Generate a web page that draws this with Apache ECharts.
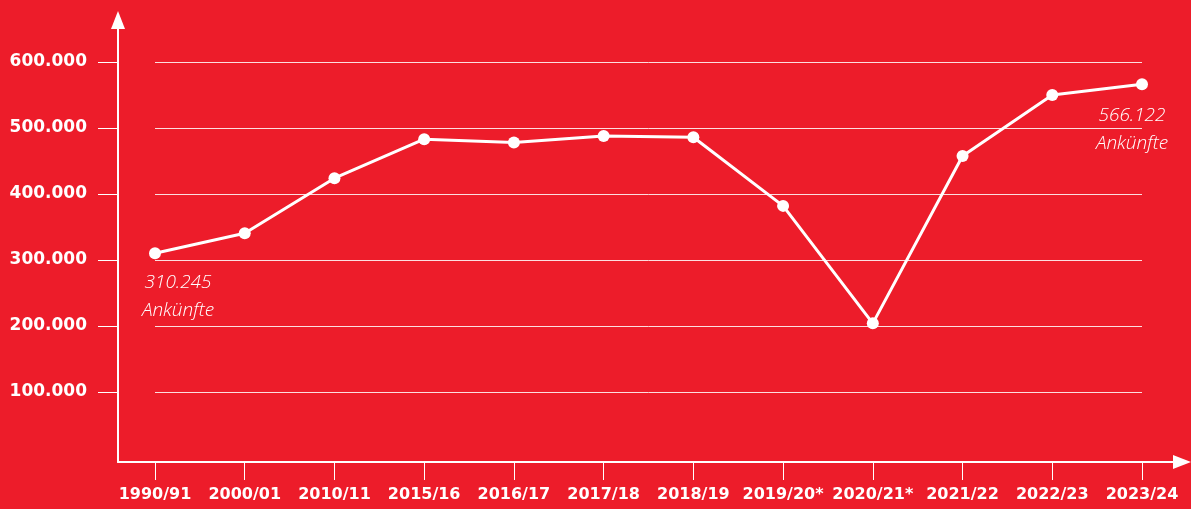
<!DOCTYPE html>
<html>
<head>
<meta charset="utf-8">
<script src="https://cdn.jsdelivr.net/npm/echarts@6/dist/echarts.min.js"></script>
<style>
  html, body { margin: 0; padding: 0; background: #ed1c2a; }
  #chart { width: 1191px; height: 509px; }
</style>
</head>
<body>
<div id="chart"></div>
<script>
// Daten
var categories = ['1990/91', '2000/01', '2010/11', '2015/16', '2016/17', '2017/18',
  '2018/19', '2019/20*', '2020/21*', '2021/22', '2022/23', '2023/24'];
var arrivals = [310245, 340500, 424000, 483000, 478000, 488000,
  486000, 382000, 204000, 457500, 550000, 566122];
var yTicks = [100000, 200000, 300000, 400000, 500000, 600000];

var white = '#ffffff';
var labelFont = '"DejaVu Sans", sans-serif';
var noteFont = '"Open Sans", Lato, sans-serif';

function fmt(v) {
  return String(v).replace(/\B(?=(\d{3})+(?!\d))/g, '.');
}

var seriesData = arrivals.map(function (v, i) {
  var item = { value: v };
  if (i === 0) {
    item.label = { show: true, position: 'bottom', offset: [23, 4] };
  }
  if (i === arrivals.length - 1) {
    item.label = { show: true, position: 'bottom', offset: [-10, 6] };
  }
  return item;
});

var myChart = echarts.init(document.getElementById('chart'));
myChart.setOption({
  backgroundColor: '#ed1c2a',
  animation: false,
  grid: [
    // Datenbereich (100.000 bis 600.000)
    { left: 155, right: 49, top: 62, bottom: 117 },
    // Achsenrahmen mit Pfeilen
    { left: 118, right: 9, top: 20, bottom: 47 }
  ],
  xAxis: [
    {
      type: 'category',
      gridIndex: 0,
      data: categories,
      boundaryGap: false,
      offset: 70,
      axisLine: { show: false },
      axisTick: { show: true, length: 18, lineStyle: { color: white, width: 1 } },
      axisLabel: {
        interval: 0,
        color: white, fontFamily: labelFont, fontWeight: 'bold', fontSize: 16, margin: 25
      },
      splitLine: { show: false }
    },
    {
      type: 'value',
      gridIndex: 1,
      min: 0, max: 1,
      axisLine: {
        show: true,
        symbol: ['none', 'triangle'],
        symbolSize: [14, 18],
        lineStyle: { color: white, width: 2 }
      },
      axisTick: { show: false },
      axisLabel: { show: false },
      splitLine: { show: false }
    }
  ],
  yAxis: [
    {
      type: 'value',
      gridIndex: 0,
      min: 100000,
      max: 600000,
      interval: 100000,
      offset: 37,
      axisLine: { show: false },
      axisTick: { show: true, length: 20, lineStyle: { color: white, width: 1 } },
      axisLabel: {
        color: white, fontFamily: labelFont, fontWeight: 'bold', fontSize: 17, margin: 31,
        formatter: function (v) { return yTicks.indexOf(v) >= 0 ? fmt(v) : ''; }
      },
      splitLine: { show: true, lineStyle: { color: 'rgba(255,255,255,0.85)', width: 1 } }
    },
    {
      type: 'value',
      gridIndex: 1,
      min: 0, max: 1,
      axisLine: {
        show: true,
        symbol: ['none', 'triangle'],
        symbolSize: [14, 18],
        lineStyle: { color: white, width: 2 }
      },
      axisTick: { show: false },
      axisLabel: { show: false },
      splitLine: { show: false }
    }
  ],
  series: [
    {
      name: 'Ankünfte',
      type: 'line',
      xAxisIndex: 0,
      yAxisIndex: 0,
      data: seriesData,
      symbol: 'circle',
      symbolSize: 12,
      lineStyle: { color: white, width: 3 },
      itemStyle: { color: white },
      label: {
        show: false,
        color: white,
        fontFamily: noteFont,
        fontStyle: 'italic',
        fontWeight: 300,
        fontSize: 19,
        lineHeight: 28,
        align: 'center',
        formatter: function (p) { return fmt(p.value) + '\nAnkünfte'; }
      }
    }
  ]
});
window.onresize = function () {
  myChart.resize();
};
</script>
</body>
</html>
